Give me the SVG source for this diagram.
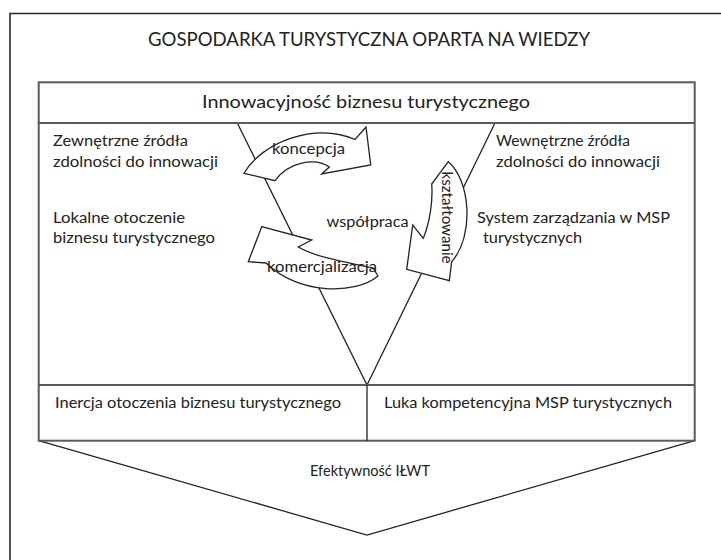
<svg xmlns="http://www.w3.org/2000/svg" width="721" height="560" viewBox="0 0 721 560">
<style>
text{font-family:Lato,"Liberation Sans",sans-serif;fill:#222}
.t{font-size:14.5px}
.box{fill:none;stroke:#5a5a5a;stroke-width:2}
.ln{fill:none;stroke:#222;stroke-width:1.3}
.arr{fill:#fff;stroke:#222;stroke-width:1.3;stroke-linejoin:miter}
</style>
<rect width="721" height="560" fill="#fff"/>
<g id="frame">
<path d="M10,560 V13.5 H721" fill="none" stroke="#2a2a2a" stroke-width="1.6"/>
<text x="369" y="46" font-size="19" text-anchor="middle" textLength="442" lengthAdjust="spacingAndGlyphs">GOSPODARKA TURYSTYCZNA OPARTA NA WIEDZY</text>
</g>
<g id="connectors">
<path class="ln" d="M237.3,123 L367,385 L495,123"/>
<path class="ln" d="M38.7,440.7 L367,535 L694.7,440.7"/>
</g>
<g id="innowacyjnosc">
<rect class="box" x="38.7" y="82.3" width="656" height="358.4"/>
<line class="box" x1="38.7" y1="123" x2="694.7" y2="123"/>
<text x="366" y="108" font-size="17" text-anchor="middle" textLength="328" lengthAdjust="spacingAndGlyphs">Innowacyjność biznesu turystycznego</text>
</g>
<g id="zewnetrzne">
<text class="t" x="53" y="146" textLength="135" lengthAdjust="spacingAndGlyphs">Zewnętrzne źródła</text>
<text class="t" x="53" y="166.5" textLength="165" lengthAdjust="spacingAndGlyphs">zdolności do innowacji</text>
</g>
<g id="lokalne">
<text class="t" x="53" y="223" textLength="132" lengthAdjust="spacingAndGlyphs">Lokalne otoczenie</text>
<text class="t" x="53" y="243" textLength="162" lengthAdjust="spacingAndGlyphs">biznesu turystycznego</text>
</g>
<g id="wewnetrzne">
<text class="t" x="496" y="146" textLength="134" lengthAdjust="spacingAndGlyphs">Wewnętrzne źródła</text>
<text class="t" x="496" y="166.5" textLength="164" lengthAdjust="spacingAndGlyphs">zdolności do innowacji</text>
</g>
<g id="system">
<text class="t" x="477" y="223" textLength="193" lengthAdjust="spacingAndGlyphs">System zarządzania w MSP</text>
<text class="t" x="483" y="243" textLength="99" lengthAdjust="spacingAndGlyphs">turystycznych</text>
</g>
<g id="wspolpraca">
<text class="t" x="326.5" y="227" textLength="82" lengthAdjust="spacingAndGlyphs">współpraca</text>
</g>
<g id="koncepcja">
<path class="arr" d="M244,173.3 C262,142 315,122 355,139.5 L366,127 L370.7,165 L321.7,174 L329.3,167 C315,157 288,162 275,180.7 Z"/>
<text class="t" x="272" y="153.5" textLength="73" lengthAdjust="spacingAndGlyphs">koncepcja</text>
</g>
<g id="ksztaltowanie">
<path class="arr" d="M448.3,161.7 C470,180 475,235 451.7,261.7 L449.3,280.7 L406.7,269.3 L412.7,225 L423.3,238.3 C430,222 433,200 431.7,184 Z"/>
<text class="t" transform="translate(442,217.5) rotate(90)" text-anchor="middle" textLength="92" lengthAdjust="spacingAndGlyphs">kształtowanie</text>
</g>
<g id="komercjalizacja">
<path class="arr" d="M261.7,226.7 L311.7,240 L298.3,247 C315,257 345,262 373,268 L378,276 C355,295 300,295 266,263 L248.3,261.7 Z"/>
<text class="t" x="267" y="271.7" textLength="110" lengthAdjust="spacingAndGlyphs">komercjalizacja</text>
</g>
<g id="inercja">
<line class="box" x1="38.7" y1="385" x2="694.7" y2="385"/>
<line class="ln" x1="367" y1="385" x2="367" y2="440.7"/>
<text class="t" x="55" y="408" textLength="286" lengthAdjust="spacingAndGlyphs">Inercja otoczenia biznesu turystycznego</text>
</g>
<g id="luka">
<text class="t" x="384" y="408" textLength="288" lengthAdjust="spacingAndGlyphs">Luka kompetencyjna MSP turystycznych</text>
</g>
<g id="efektywnosc">
<text class="t" x="370" y="476" text-anchor="middle" textLength="120" lengthAdjust="spacingAndGlyphs">Efektywność IŁWT</text>
</g>
</svg>
